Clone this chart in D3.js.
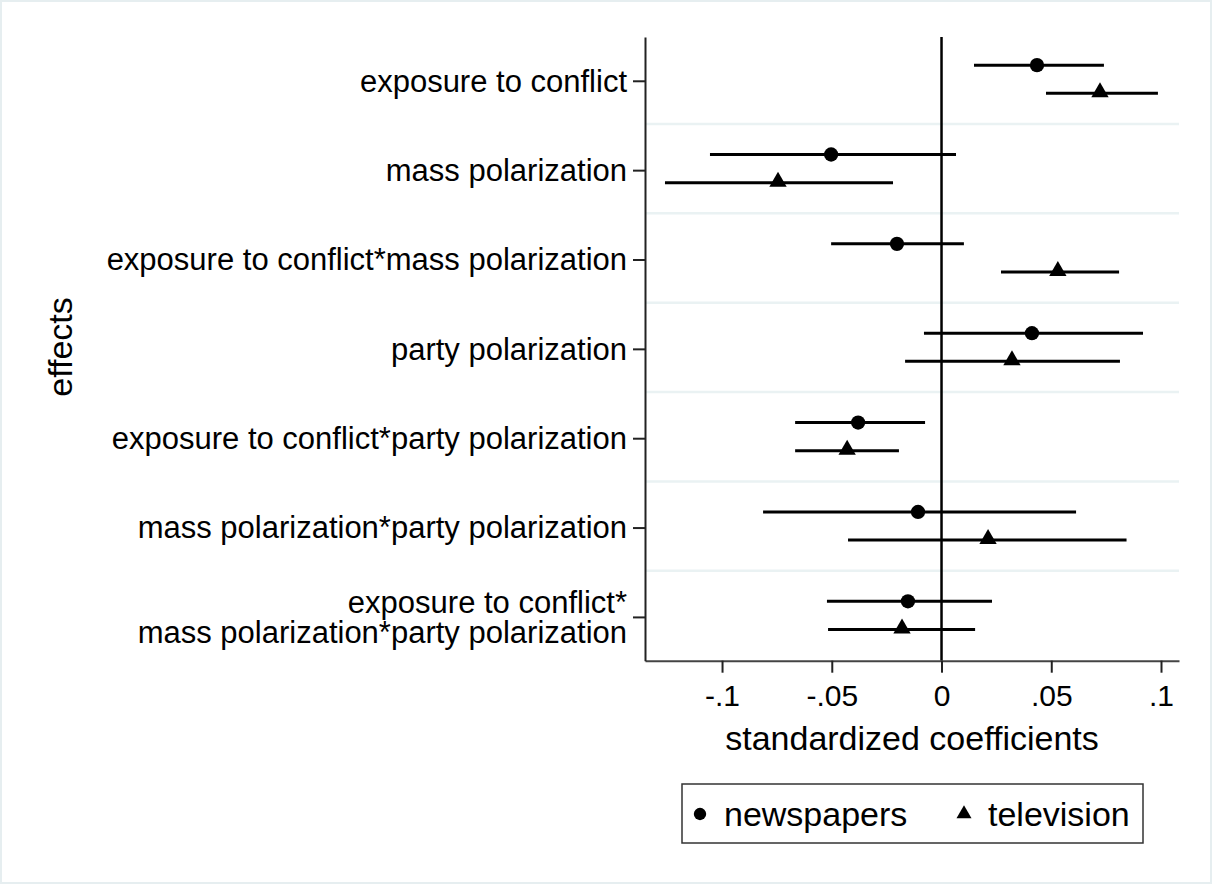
<!DOCTYPE html>
<html>
<head>
<meta charset="utf-8">
<script src="https://cdn.jsdelivr.net/npm/d3@7"></script>
<style>
  body { margin: 0; background: #fff; }
  text { font-family: "Liberation Sans", Arial, sans-serif; fill: #000; }
</style>
</head>
<body>
<svg id="chart" width="1212" height="884"></svg>
<script>
// effects, top to bottom
var effects = [
	["exposure to conflict"],
	["mass polarization"],
	["exposure to conflict*mass polarization"],
	["party polarization"],
	["exposure to conflict*party polarization"],
	["mass polarization*party polarization"],
	["exposure to conflict*", "mass polarization*party polarization"]
];

// newspapers: estimate and confidence interval
var news_coef = [0.0435, -0.0503, -0.0203, 0.0412, -0.0380, -0.0107, -0.0153];
var news_lo   = [0.0148, -0.1055, -0.0503, -0.0080, -0.0667, -0.0813, -0.0522];
var news_hi   = [0.0740, 0.0066, 0.0102, 0.0918, -0.0075, 0.0613, 0.0230];

// television
var tv_coef = [0.0722, -0.0745, 0.0530, 0.0321, -0.0430, 0.0212, -0.0180];
var tv_lo   = [0.0476, -0.1260, 0.0271, -0.0166, -0.0667, -0.0426, -0.0517];
var tv_hi   = [0.0986, -0.0221, 0.0809, 0.0813, -0.0194, 0.0843, 0.0153];

var x_ticks = [-0.1, -0.05, 0, 0.05, 0.1];
var x_tick_labels = ["-.1", "-.05", "0", ".05", ".1"];

var series_names = ["newspapers", "television"];

var svg = d3.select('#chart');
var label_size = 31, tick_size = 30, title_size = 34;

var x = d3.scaleLinear().domain([-0.1351, 0.1082]).range([645, 1179]);
var y = d3.scaleLinear().domain([0.51, 7.49]).range([37, 660.7]);

// faint outer frame
svg.append('rect').attr('x', 1).attr('y', 1).attr('width', 1210).attr('height', 882)
	.attr('fill', 'none').attr('stroke', '#e6eef0').attr('stroke-width', 2);

// grid lines between the effects
var gridpos = d3.range(1, effects.length).map(function (d) { return d + 0.5; });
svg.append('g').selectAll('line').data(gridpos).enter().append('line')
	.attr('x1', x.range()[0] + 1).attr('x2', x.range()[1])
	.attr('y1', function (d) { return y(d) - 1.5; })
	.attr('y2', function (d) { return y(d) - 1.5; })
	.attr('stroke', '#eaf2f3').attr('stroke-width', 2.5);

// zero reference line
svg.append('line').attr('x1', x(0)).attr('x2', x(0))
	.attr('y1', y.range()[0]).attr('y2', y.range()[1])
	.attr('stroke', '#000').attr('stroke-width', 2.5);

// x axis
var xaxis = svg.append('g').attr('transform', 'translate(0,' + y.range()[1] + ')')
	.call(d3.axisBottom(x).tickValues(x_ticks)
		.tickFormat(function (d, i) { return x_tick_labels[i]; })
		.tickSize(12).tickSizeOuter(0).tickPadding(12));
xaxis.select('.domain').attr('stroke', '#444').attr('stroke-width', 2);
xaxis.selectAll('.tick line').attr('stroke', '#222').attr('stroke-width', 2);
xaxis.selectAll('.tick text').attr('font-size', tick_size + 'px')
	.attr('font-family', '"Liberation Sans", Arial, sans-serif').attr('fill', '#000');

// y axis with category ticks
var yaxis = svg.append('g').attr('transform', 'translate(' + x.range()[0] + ',0)')
	.call(d3.axisLeft(y).tickValues(d3.range(1, effects.length + 1))
		.tickFormat('').tickSize(12).tickSizeOuter(0));
yaxis.select('.domain').attr('stroke', '#222').attr('stroke-width', 2);
yaxis.selectAll('.tick line').attr('stroke', '#222').attr('stroke-width', 2);

var labels = svg.append('g').selectAll('text').data(effects).enter().append('text')
	.attr('text-anchor', 'end')
	.attr('font-size', label_size + 'px')
	.attr('transform', function (d, i) { return 'translate(627,' + y(i + 1) + ')'; });
labels.each(function (lines) {
	var t = d3.select(this);
	var n = lines.length;
	lines.forEach(function (line, j) {
		t.append('tspan').attr('x', 0)
			.attr('y', (j - (n - 1) / 2) * 30 + label_size * 0.35)
			.text(line);
	});
});

// axis titles
svg.append('text').attr('text-anchor', 'middle').attr('font-size', title_size + 'px')
	.attr('transform', 'translate(912,750)').text('standardized coefficients');
svg.append('text').attr('text-anchor', 'middle').attr('font-size', title_size + 'px')
	.attr('transform', 'translate(72,347) rotate(-90)').text('effects');

// estimates
var series = [
	{ name: series_names[0], coef: news_coef, lo: news_lo, hi: news_hi, offset: -0.175, symbol: d3.symbolCircle, size: 160 },
	{ name: series_names[1], coef: tv_coef, lo: tv_lo, hi: tv_hi, offset: 0.14, symbol: d3.symbolTriangle, size: 130 }
];

series.forEach(function (s) {
	var g = svg.append('g');
	var rows = d3.range(s.coef.length);
	g.selectAll('line').data(rows).enter().append('line')
		.attr('x1', function (i) { return x(s.lo[i]); })
		.attr('x2', function (i) { return x(s.hi[i]); })
		.attr('y1', function (i) { return y(i + 1 + s.offset); })
		.attr('y2', function (i) { return y(i + 1 + s.offset); })
		.attr('stroke', '#000').attr('stroke-width', 3);
	g.selectAll('path').data(rows).enter().append('path')
		.attr('d', d3.symbol().type(s.symbol).size(s.size))
		.attr('transform', function (i) {
			var dy = s.symbol === d3.symbolTriangle ? -1 : 0;
			return 'translate(' + x(s.coef[i]) + ',' + (y(i + 1 + s.offset) + dy) + ')';
		})
		.attr('fill', '#000');
});

// legend
var legend = svg.append('g');
legend.append('rect').attr('x', 682).attr('y', 784).attr('width', 461).attr('height', 59)
	.attr('fill', '#fff').attr('stroke', '#333').attr('stroke-width', 1.5);
var legend_x = [700, 964];
series.forEach(function (s, i) {
	legend.append('path').attr('d', d3.symbol().type(s.symbol).size(s.size * 0.75))
		.attr('transform', 'translate(' + legend_x[i] + ',814)').attr('fill', '#000');
	legend.append('text').attr('x', legend_x[i] + 24).attr('y', 826)
		.attr('font-size', title_size + 'px').text(s.name);
});
</script>
</body>
</html>
